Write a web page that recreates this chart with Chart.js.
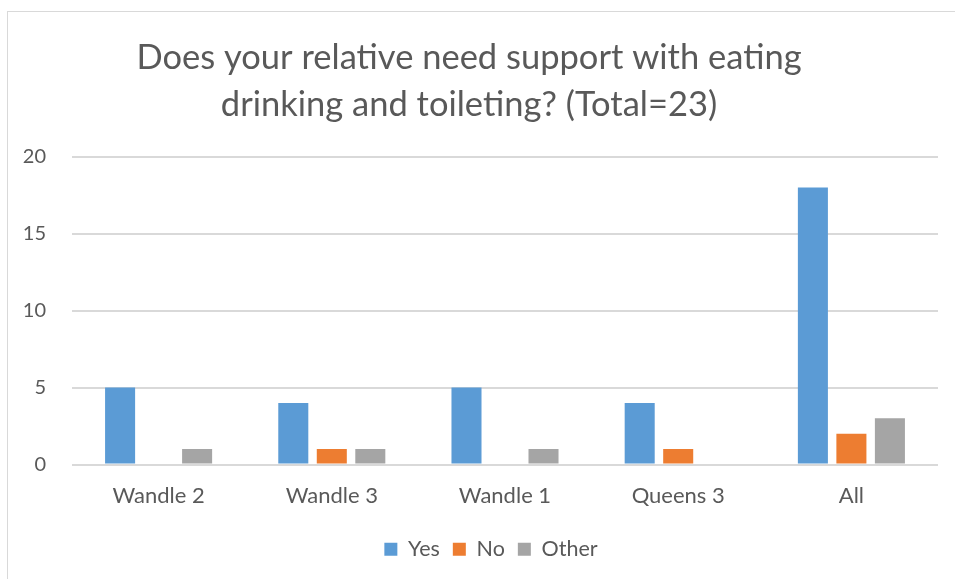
<!DOCTYPE html>
<html>
<head>
<meta charset="utf-8">
<script src="https://cdn.jsdelivr.net/npm/chart.js@4/dist/chart.umd.min.js"></script>
<style>
  html, body { margin: 0; padding: 0; background: #fff; overflow: hidden; }
  #frame {
    position: absolute; left: 7px; top: 11px; width: 1000px; height: 700px;
    border: 1.5px solid #d9d9d9; box-sizing: border-box;
  }
  #salesChart { position: absolute; left: 0; top: 0; }
</style>
</head>
<body>
<div id="frame"></div>
<canvas id="salesChart" width="955" height="579"></canvas>
<script>
// Responses per unit
var units = ["Wandle 2", "Wandle 3", "Wandle 1", "Queens 3", "All"];
var yesCounts = [5, 4, 5, 4, 18];
var noCounts = [0, 1, 0, 1, 2];
var otherCounts = [1, 1, 1, 0, 3];
var yTicks = [0, 5, 10, 15, 20];

var textColor = "#595959";
var fontFamily = "Lato, 'Open Sans', sans-serif";

// nudge the legend to sit under the middle of the plot area
var legendShift = {
    id: "legendShift",
    afterLayout: function (chart) {
        chart.legend.left += 22;
        chart.legend.right += 22;
    },
};

var ctx = document.getElementById("salesChart").getContext("2d");
var myChart = new Chart(ctx, {
    type: "bar",
    data: {
        labels: units,
        datasets: [
            { label: "Yes", data: yesCounts, backgroundColor: "#5b9bd5" },
            { label: "No", data: noCounts, backgroundColor: "#ed7d31" },
            { label: "Other", data: otherCounts, backgroundColor: "#a5a5a5" },
        ],
    },
    plugins: [legendShift],
    options: {
        responsive: false,
        animation: false,
        categoryPercentage: 0.667,
        barPercentage: 0.78,
        layout: { padding: { left: 0, right: 17, top: 34, bottom: 9 } },
        plugins: {
            title: {
                display: true,
                text: ["Does your relative need support with eating", "drinking and toileting? (Total=23)"],
                color: textColor,
                font: { family: fontFamily, size: 34.5, weight: "normal", lineHeight: 1.36 },
                padding: { top: 0, bottom: 29 },
            },
            legend: {
                position: "bottom",
                labels: {
                    color: textColor,
                    font: { family: fontFamily, size: 21.5 },
                    boxWidth: 13,
                    boxHeight: 13,
                    padding: 13,
                },
            },
            tooltip: { enabled: false },
        },
        scales: {
            x: {
                grid: { display: false },
                border: { display: false },
                afterFit: function (scale) { scale.height = 61; },
                ticks: { color: textColor, font: { family: fontFamily, size: 22 }, padding: 10 },
            },
            y: {
                min: 0,
                max: 20,
                afterBuildTicks: function (scale) {
                    scale.ticks = yTicks.map(function (v) { return { value: v }; });
                },
                afterFit: function (scale) { scale.width = 72; },
                grid: { color: "#d9d9d9", lineWidth: 2, drawTicks: false },
                border: { display: false },
                ticks: { color: textColor, font: { family: fontFamily, size: 20 }, padding: 26 },
            },
        },
    },
});
</script>
</body>
</html>
